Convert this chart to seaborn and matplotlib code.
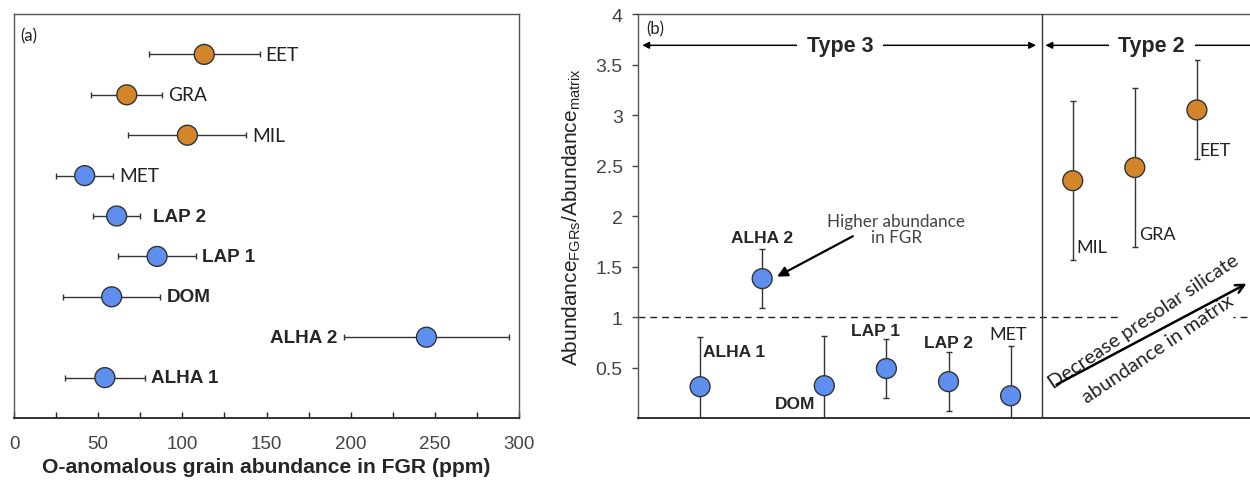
import numpy as np
import pandas as pd
import seaborn as sns
import matplotlib.pyplot as plt
from matplotlib.ticker import MultipleLocator

# panel (a): O-anomalous grain abundance in FGR (ppm)
names = ["ALHA 1", "ALHA 2", "DOM", "LAP 1", "LAP 2", "MET", "MIL", "GRA", "EET"]
group = ["Type 3"] * 6 + ["Type 2"] * 3
fgr_ppm = [54, 245, 58, 85, 61, 42, 103, 67, 113]
fgr_err = [24, 49, 29, 23, 14, 17, 35, 21, 33]
bold_names = ["ALHA 1", "ALHA 2", "DOM", "LAP 1", "LAP 2"]

# panel (b): abundance ratio FGR / matrix
ratio = [0.31, 1.38, 0.32, 0.49, 0.36, 0.22, 2.35, 2.48, 3.05]
ratio_err = [0.49, 0.29, 0.49, 0.29, 0.29, 0.49, 0.79, 0.79, 0.49]

df = pd.DataFrame({"name": names, "group": group, "ppm": fgr_ppm, "ppm_err": fgr_err,
                   "ratio": ratio, "ratio_err": ratio_err})
df["pos"] = np.arange(1, len(df) + 1)

palette = {"Type 3": "#5E8FEF", "Type 2": "#D3852A"}
edge = "#333333"
tick_gray = "#444444"

sns.set_style("white")
plt.rcParams["font.family"] = ["Lato", "DejaVu Sans"]

fig = plt.figure(figsize=(12.5, 4.81), dpi=100)
ax1 = fig.add_axes([0.0112, 0.1289, 0.404, 0.8399])
ax2 = fig.add_axes([0.5104, 0.1289, 0.4968, 0.8399])

# ---------- (a) ----------
ax1.errorbar(df.ppm, df.pos, xerr=df.ppm_err, fmt="none", ecolor=edge, elinewidth=1,
             capsize=2.5, capthick=1, zorder=2)
sns.scatterplot(data=df, x="ppm", y="pos", hue="group", palette=palette, s=205,
                edgecolor=edge, linewidth=1, legend=False, ax=ax1, zorder=3)
for _, r in df.iterrows():
    bold = r["name"] in bold_names
    kw = dict(fontsize=13.6, family="Liberation Sans", fontweight="bold") if bold else \
        dict(fontsize=13.8, color="#222222")
    if r["name"] == "ALHA 2":
        ax1.annotate(r["name"], (r.ppm - r.ppm_err, r.pos), xytext=(-4.5, 0),
                     textcoords="offset points", ha="right", va="center", **kw)
    else:
        off = 9.4 if r["name"] == "LAP 2" else 4.3
        ax1.annotate(r["name"], (r.ppm + r.ppm_err, r.pos), xytext=(off, 0),
                     textcoords="offset points", ha="left", va="center", **kw)

ax1.set_xlim(0, 300)
ax1.set_ylim(0, 10)
ax1.xaxis.set_major_locator(MultipleLocator(50))
ax1.xaxis.set_minor_locator(MultipleLocator(25))
ax1.tick_params(axis="x", which="both", direction="in", length=4, width=1,
                color="#222222", pad=12, labelsize=13.5, labelcolor=tick_gray, bottom=True)
for lab in ax1.get_xticklabels():
    lab.set_family("Liberation Sans")
ax1.set_yticks([])
ax1.set_ylabel("")
ax1.set_xlabel("O-anomalous grain abundance in FGR (ppm)", fontsize=15.2,
               family="Liberation Sans", fontweight="bold", labelpad=4)
for side in ["top", "left", "right"]:
    ax1.spines[side].set_color("#555555")
    ax1.spines[side].set_linewidth(1)
ax1.spines["bottom"].set_color("#222222")
ax1.spines["bottom"].set_linewidth(1.3)
ax1.text(0.013, 0.968, "(a)", transform=ax1.transAxes, fontsize=12, ha="left", va="top",
         color="#222222")

# ---------- (b) ----------
ax2.axhline(1, color="#222222", lw=1, ls=(0, (5, 3.5)), zorder=1)
ax2.axvline(6.5, color="#333333", lw=1, zorder=4.5)
ax2.errorbar(df.pos, df.ratio, yerr=df.ratio_err, fmt="none", ecolor=edge, elinewidth=1,
             capsize=2.5, capthick=1, zorder=2)
sns.scatterplot(data=df, x="pos", y="ratio", hue="group", palette=palette, s=205,
                edgecolor=edge, linewidth=1, legend=False, ax=ax2, zorder=3)

bkw = dict(fontsize=12.5, family="Liberation Sans", fontweight="bold")
nkw = dict(fontsize=13, color="#222222")
ax2.text(1.05, 0.655, "ALHA 1", ha="left", va="center", **bkw)
ax2.text(2.0, 1.79, "ALHA 2", ha="center", va="center", **bkw)
ax2.text(2.86, 0.14, "DOM", ha="right", va="center", **bkw)
ax2.text(3.82, 0.865, "LAP 1", ha="center", va="center", **bkw)
ax2.text(5.0, 0.75, "LAP 2", ha="center", va="center", **bkw)
ax2.text(5.96, 0.83, "MET", ha="center", va="center", **nkw)
ax2.text(7.06, 1.69, "MIL", ha="left", va="center", **nkw)
ax2.text(8.07, 1.82, "GRA", ha="left", va="center", **nkw)
ax2.text(9.04, 2.65, "EET", ha="left", va="center", **nkw)
ax2.text(0.13, 3.86, "(b)", ha="left", va="center", fontsize=12, color="#222222")

ax2.text(4.16, 1.876, "Higher abundance\nin FGR", ha="center", va="center", fontsize=12.3,
         color="#444444", linespacing=1.0)
ax2.annotate("", xy=(2.24, 1.40), xytext=(3.46, 1.80),
             arrowprops=dict(arrowstyle="-|>", color="black", lw=1.6,
                             mutation_scale=15, shrinkA=0, shrinkB=0))

# Type 3 / Type 2 spans
hk = dict(arrowstyle="<|-|>", color="black", lw=1.1, mutation_scale=10, shrinkA=0, shrinkB=0)
ax2.annotate("", xy=(0.068, 3.69), xytext=(6.41, 3.69), arrowprops=hk)
ax2.annotate("", xy=(6.56, 3.69), xytext=(10.3, 3.69), arrowprops=hk, annotation_clip=False)
tkw = dict(fontsize=15.5, family="Liberation Sans", fontweight="bold", ha="center",
           va="center", bbox=dict(facecolor="white", edgecolor="none", pad=7), zorder=4)
ax2.text(3.25, 3.69, "Type 3", **tkw)
ax2.text(8.27, 3.69, "Type 2", **tkw)

# trend note: two rotated lines with the arrow running between them
dkw = dict(rotation=34, rotation_mode="anchor", ha="center", va="center", fontsize=14.5,
           color="#222222", bbox=dict(facecolor="white", edgecolor="none", pad=6), zorder=4)
ax2.text(8.15, 0.965, "Decrease presolar silicate", **dkw)
ax2.text(8.37, 0.69, "abundance in matrix", **dkw)
ax2.annotate("", xy=(9.80, 1.33), xytext=(6.74, 0.33),
             arrowprops=dict(arrowstyle="->", color="black", lw=1.8, mutation_scale=15,
                             shrinkA=0, shrinkB=0), zorder=5)

ax2.set_xlim(0, 10)
ax2.set_ylim(0, 4)
ax2.set_xticks([])
ax2.set_yticks([0.5, 1, 1.5, 2, 2.5, 3, 3.5, 4])
ax2.set_yticklabels(["0.5", "1", "1.5", "2", "2.5", "3", "3.5", "4"], family="Liberation Sans")
ax2.tick_params(axis="y", direction="out", length=4, width=1, color="#444444", pad=7,
                labelsize=14, labelcolor=tick_gray, left=True)
ax2.set_xlabel("")
ax2.set_ylabel(r"Abundance$_{\mathregular{FGRs}}$/Abundance$_{\mathregular{matrix}}$",
               fontsize=15, family="Liberation Sans", color="#222222", labelpad=9)
for side in ["top", "left", "right"]:
    ax2.spines[side].set_color("#555555")
    ax2.spines[side].set_linewidth(1)
ax2.spines["bottom"].set_color("#222222")
ax2.spines["bottom"].set_linewidth(1.3)

fig.savefig("out.png", dpi=100)
